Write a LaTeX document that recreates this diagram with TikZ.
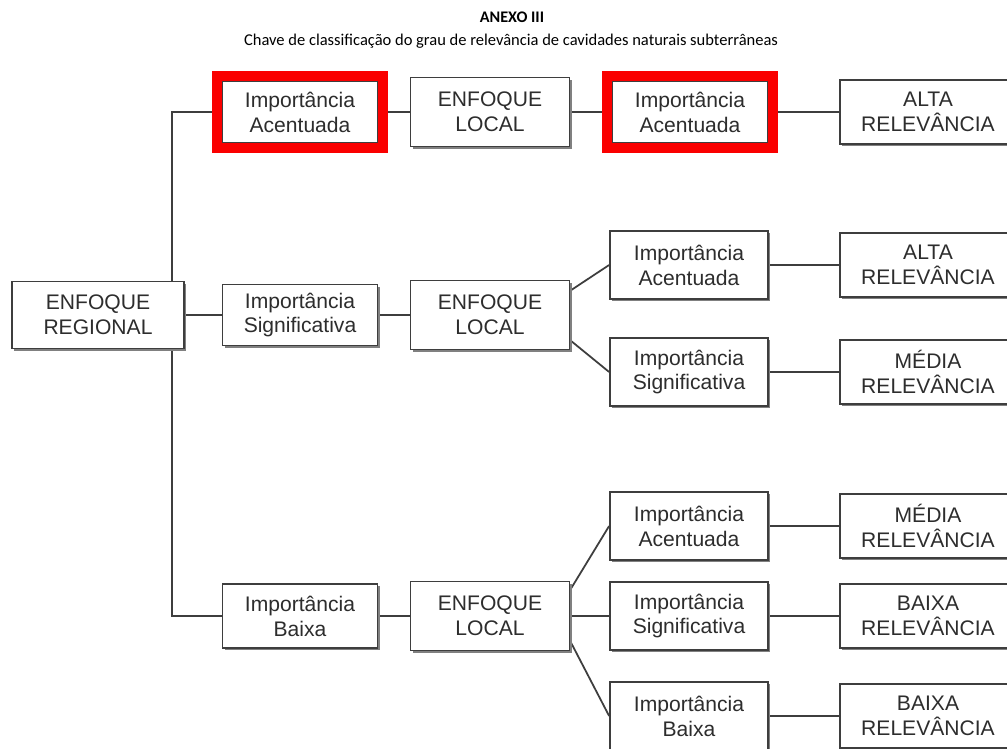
\documentclass[tikz,border=0pt]{standalone}
\usepackage{fontspec}
\setmainfont{Liberation Sans}
\newfontfamily\headingfont{Carlito}
\usepackage{tikz}
\usetikzlibrary{positioning,shadows,backgrounds}
\definecolor{linecolor}{RGB}{62,62,62}
\definecolor{textcolor}{RGB}{45,45,45}
\definecolor{markcolor}{RGB}{250,0,0}
\tikzset{
    block/.style={rectangle, draw=linecolor, line width=1pt, fill=white, align=center, inner sep=0pt,
        text=textcolor, font=\fontsize{12}{14.2}\selectfont,
        drop shadow={shadow xshift=1.3pt, shadow yshift=-1.3pt, fill=black!50, opacity=1}},
    focus block/.style={block, minimum width=3.18cm, minimum height=1.38cm},
    level block/.style={block, minimum width=3.1cm, minimum height=1.22cm},
    branch block/.style={block, minimum width=3.16cm, minimum height=1.36cm},
    result block/.style={block, minimum width=3.52cm, minimum height=1.28cm},
    link/.style={draw=linecolor, line width=1pt},
    highlight/.style={draw=markcolor, line width=0.2cm},
    heading/.style={font=\headingfont\fontsize{9.4}{11}\selectfont, text=black}
}

\begin{document}
\begin{tikzpicture}[x=0.02cm, y=-0.02cm]
    \useasboundingbox (0,0) rectangle (1007,749);

    % Title
    \node[heading, font=\headingfont\bfseries\fontsize{9.2}{11}\selectfont] (T-1) at (512,17) {ANEXO III};
    \node[heading] (T-2) at (511,41) {Chave de classificação do grau de relevância de cavidades naturais subterrâneas};

    % Regional approach
    \node[focus block, minimum width=3.44cm, minimum height=1.34cm] (ER) at (98,315) {ENFOQUE\\REGIONAL};

    % First importance level
    \node[level block] (I1-1) at (300,112) {Importância\\Acentuada};
    \node[level block] (I1-2) at (300,315) {Importância\\Significativa};
    \node[level block, minimum height=1.28cm] (I1-3) at (300,616) {Importância\\Baixa};

    % Local approach
    \foreach \i/\y in {1/112, 2/315, 3/616} {
        \node[focus block] (L-\i) at (490,\y) {ENFOQUE\\LOCAL};
    }

    % Second importance level
    \node[level block] (I3-1) at (690,112) {Importância\\Acentuada};
    \node[branch block] (I3-2) at (689,265) {Importância\\Acentuada};
    \node[branch block] (I3-3) at (689,372) {Importância\\Significativa};
    \node[branch block] (I3-4) at (689,526) {Importância\\Acentuada};
    \node[branch block] (I3-5) at (689,616) {Importância\\Significativa};
    \node[branch block] (I3-6) at (689,716) {Importância\\Baixa};

    % Resulting relevance
    \node[result block] (R-1) at (928,112) {ALTA\\RELEVÂNCIA};
    \node[result block] (R-2) at (928,265) {ALTA\\RELEVÂNCIA};
    \node[result block] (R-3) at (928,372) {MÉDIA\\RELEVÂNCIA};
    \node[result block] (R-4) at (928,526) {MÉDIA\\RELEVÂNCIA};
    \node[result block] (R-5) at (928,616) {BAIXA\\RELEVÂNCIA};
    \node[result block] (R-6) at (928,716) {BAIXA\\RELEVÂNCIA};

    % Red frames
    \foreach \n in {I1-1, I3-1} {
        \draw[highlight] ([shift={(-0.1cm,0.1cm)}]\n.north west) rectangle ([shift={(0.1cm,-0.1cm)}]\n.south east);
    }

    % Connections
    \begin{scope}[on background layer]
        \fill[white] (0,0) rectangle (1007,749);
        \coordinate (trunk) at (172,315);
        \draw[link] (I1-1.west) -| (trunk) |- (I1-3.west);
        \draw[link] (ER) -- (I1-2);
        \foreach \i in {1,2,3} {
            \draw[link] (I1-\i) -- (L-\i);
        }
        \draw[link] (L-1) -- (I3-1);
        \draw[link] ([yshift=-0.22cm]L-2.north east) -- (I3-2.west);
        \draw[link] ([yshift=0.2cm]L-2.south east) -- (I3-3.west);
        \draw[link] ([yshift=-0.18cm]L-3.north east) -- (I3-4.west);
        \draw[link] (L-3) -- (I3-5);
        \draw[link] ([yshift=0.2cm]L-3.south east) -- (I3-6.west);
        \foreach \i in {1,...,6} {
            \draw[link] (I3-\i) -- (R-\i);
        }
    \end{scope}
\end{tikzpicture}
\end{document}
